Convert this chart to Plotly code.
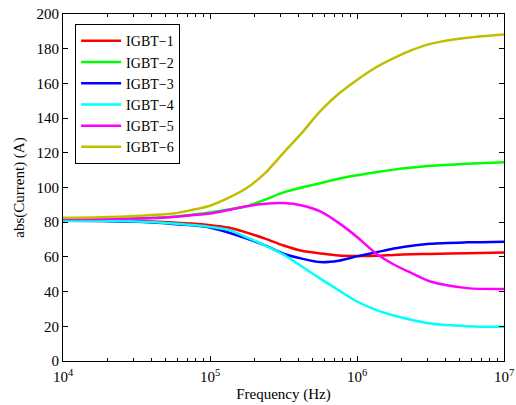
import plotly.graph_objects as go

# Frequency grid (log10 of Hz) and current magnitude per IGBT
log_freq = [4.00, 4.25, 4.50, 4.75, 4.875, 5.00, 5.125, 5.25, 5.375, 5.50, 5.625, 5.75, 5.875,
            6.00, 6.125, 6.25, 6.375, 6.50, 6.75, 7.00]
freq = [10 ** v for v in log_freq]

igbt1 = [81.2, 81.1, 80.8, 79.8, 79.2, 78.3, 76.9, 74.0, 70.5, 66.6, 63.5, 62.0, 60.8,
         60.5, 60.6, 61.1, 61.5, 61.7, 62.1, 62.5]
igbt2 = [82.0, 82.0, 82.3, 83.2, 84.3, 85.6, 87.3, 89.2, 93.0, 97.2, 100.0, 102.5, 105.0,
         107.0, 108.8, 110.3, 111.5, 112.5, 113.7, 114.6]
igbt3 = [80.8, 80.7, 80.2, 79.0, 78.2, 77.0, 74.1, 70.6, 66.6, 61.8, 59.0, 57.0, 57.8,
         60.3, 62.5, 64.8, 66.4, 67.6, 68.4, 68.8]
igbt4 = [80.8, 80.8, 80.4, 79.3, 78.4, 77.3, 75.6, 71.3, 66.5, 61.3, 54.5, 47.5, 40.8,
         34.3, 29.6, 26.2, 23.6, 21.6, 20.1, 19.7]
igbt5 = [81.8, 81.9, 82.1, 83.0, 84.0, 85.0, 87.0, 89.2, 90.7, 91.0, 89.6, 86.2, 79.6,
         71.5, 62.3, 55.6, 50.5, 45.8, 42.0, 41.5]
igbt6 = [82.5, 82.8, 83.6, 85.0, 87.0, 89.5, 94.0, 99.7, 108.3, 120.0, 131.5, 144.0, 154.0,
         162.0, 169.0, 174.5, 179.3, 182.8, 186.3, 188.2]

series_names = ["IGBT\u22121", "IGBT\u22122", "IGBT\u22123", "IGBT\u22124", "IGBT\u22125", "IGBT\u22126"]
series_values = [igbt1, igbt2, igbt3, igbt4, igbt5, igbt6]
series_colors = ["#FF0000", "#00FF00", "#0000FF", "#00FFFF", "#FF00FF", "#BFBF00"]

x_tick_vals = [1e4, 1e5, 1e6, 1e7]
x_tick_text = ["10<sup>4</sup>", "10<sup>5</sup>", "10<sup>6</sup>", "10<sup>7</sup>"]
y_tick_vals = list(range(0, 201, 20))

FONT = "Liberation Serif"

fig = go.Figure()
for name, vals, col in zip(series_names, series_values, series_colors):
    fig.add_trace(go.Scatter(
        x=freq, y=vals, name=name, mode="lines",
        line=dict(color=col, width=2.5, shape="spline", smoothing=0.8),
    ))

axis_common = dict(
    showline=True, linecolor="black", linewidth=1.2, mirror="ticks",
    ticks="inside", tickcolor="black", tickwidth=1,
    showgrid=False, zeroline=False, automargin=False,
    tickfont=dict(family=FONT, size=15, color="black"),
)

fig.update_xaxes(
    type="log", range=[4, 7],
    tickvals=x_tick_vals, ticktext=x_tick_text, ticklen=5, ticklabelstandoff=2,
    minor=dict(ticks="inside", ticklen=3, tickcolor="black", dtick="D1", showgrid=False),
    title=dict(text="Frequency (Hz)", font=dict(family=FONT, size=15, color="black"), standoff=4),
    **axis_common,
)
fig.update_yaxes(
    range=[0, 200], tickvals=y_tick_vals, ticklen=5,
    title=dict(text="abs(Current) (A)", font=dict(family=FONT, size=15, color="black"), standoff=8),
    **axis_common,
)

fig.update_layout(
    width=516, height=405,
    margin=dict(l=63, r=12, t=14, b=44),
    paper_bgcolor="white", plot_bgcolor="white",
    font=dict(family=FONT, size=15, color="black"),
    legend=dict(
        x=0.027, y=0.971, xanchor="left", yanchor="top",
        bgcolor="white", bordercolor="black", borderwidth=1.2,
        font=dict(family=FONT, size=14, color="black"),
        tracegroupgap=0, itemwidth=40,
    ),
    showlegend=True,
)

fig.write_html("out.html")
